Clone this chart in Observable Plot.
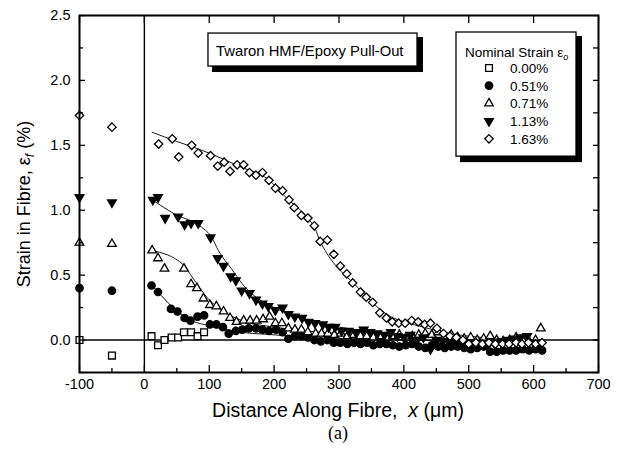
<!DOCTYPE html>
<html><head><meta charset="utf-8">
<script src="https://cdn.jsdelivr.net/npm/d3@7"></script>
<script src="https://cdn.jsdelivr.net/npm/@observablehq/plot@0.6"></script>
<style>body{margin:0;background:#fff;} #chart svg{display:block;}</style>
</head><body><div id="chart"></div>
<script>
// ---- series (x in µm, strain in %) ----
const strain000 = [[-100,0.00],[-50,-0.12],[11,0.03],[21,-0.04],[31,0.00],[42,0.02],[52,0.02],[61,0.06],[72,0.06],[82,0.03],[92,0.06]];
const strain051 = [[-100,0.40],[-50,0.38],[11,0.42],[21,0.37],[41,0.24],[51,0.22],[62,0.17],[71,0.15],[82,0.18],[92,0.19],[101,0.12],[111,0.12],[121,0.10],[130,0.05],[141,0.07],[151,0.08],[161,0.09],[172,0.09],[182,0.08],[192,0.07],[203,0.08],[213,0.06],[222,0.01],[232,0.03],[242,0.03],[252,0.02],[262,0.00],[272,-0.01],[282,0.00],[292,-0.02],[302,-0.02],[313,-0.03],[323,-0.02],[333,-0.03],[343,-0.02],[353,-0.04],[363,-0.03],[373,-0.03],[383,-0.04],[393,-0.05],[403,-0.04],[413,-0.03],[423,-0.05],[433,-0.06],[443,-0.04],[453,-0.05],[463,-0.06],[473,-0.05],[483,-0.05],[493,-0.06],[503,-0.07],[513,-0.06],[523,-0.05],[533,-0.09],[543,-0.09],[553,-0.08],[563,-0.08],[573,-0.08],[583,-0.07],[593,-0.08],[603,-0.07],[613,-0.08]];
const strain071 = [[-100,0.75],[-50,0.74],[12,0.69],[21,0.63],[31,0.55],[61,0.55],[72,0.43],[81,0.40],[91,0.32],[101,0.27],[111,0.26],[122,0.22],[132,0.17],[142,0.14],[153,0.15],[163,0.15],[173,0.15],[183,0.16],[193,0.18],[202,0.13],[212,0.13],[222,0.09],[232,0.08],[242,0.08],[252,0.06],[264,0.05],[273,0.05],[283,0.05],[293,0.04],[303,0.05],[313,0.03],[323,0.04],[333,0.03],[343,0.03],[353,0.02],[363,0.03],[373,0.02],[383,0.03],[393,0.04],[403,0.02],[413,0.03],[423,0.04],[433,0.05],[443,0.04],[453,0.06],[463,0.03],[473,0.04],[483,0.02],[493,0.01],[503,0.02],[513,0.00],[523,0.01],[533,0.03],[543,0.00],[553,-0.01],[563,0.00],[573,0.02],[583,0.00],[593,-0.01],[603,0.00],[611,0.09]];
const strain113 = [[-100,1.10],[-50,1.06],[13,1.08],[21,1.10],[32,0.94],[52,0.95],[62,0.89],[72,0.90],[83,0.90],[102,0.79],[113,0.63],[122,0.57],[133,0.49],[141,0.46],[150,0.38],[162,0.36],[172,0.31],[182,0.28],[191,0.26],[202,0.23],[213,0.25],[222,0.20],[232,0.18],[243,0.17],[253,0.14],[263,0.13],[275,0.12],[284,0.10],[294,0.10],[304,0.07],[315,0.07],[326,0.06],[338,0.08],[348,0.06],[359,0.05],[370,0.04],[380,0.06],[390,0.03],[400,0.02],[410,0.04],[420,0.00],[430,0.02],[441,-0.07],[450,0.00],[460,-0.01],[470,-0.02],[480,-0.03],[490,-0.04],[500,-0.02],[510,-0.03],[520,-0.02],[530,-0.04],[540,-0.03],[550,-0.01],[560,0.00],[570,0.01],[580,0.02],[590,0.03],[600,-0.02],[610,-0.04]];
const strain163 = [[-100,1.73],[-50,1.64],[22,1.51],[43,1.55],[53,1.41],[73,1.50],[83,1.44],[102,1.42],[113,1.34],[123,1.37],[132,1.30],[143,1.35],[153,1.35],[162,1.29],[172,1.27],[182,1.29],[192,1.23],[202,1.17],[213,1.15],[223,1.08],[231,1.02],[242,0.96],[252,0.94],[262,0.88],[271,0.76],[282,0.77],[292,0.66],[302,0.57],[312,0.51],[321,0.44],[333,0.37],[342,0.33],[352,0.29],[363,0.21],[373,0.17],[382,0.14],[392,0.13],[402,0.13],[412,0.15],[422,0.14],[432,0.12],[441,0.13],[451,0.09],[461,0.05],[471,0.03],[481,0.02],[491,0.00],[500,-0.03],[511,-0.02],[521,-0.03],[531,-0.02],[541,-0.03],[552,-0.03],[562,-0.03],[573,-0.02],[582,-0.03],[592,-0.02],[603,-0.03],[613,-0.02]];

// ---- fitted curves ----
const fit051 = [[11,0.42],[21,0.37],[42,0.26],[73,0.15],[100,0.11],[150,0.06],[200,0.04],[250,0.02],[300,0.01],[400,0.00],[610,-0.02]];
const fit071 = [[12,0.69],[60,0.58],[73,0.49],[98,0.32],[119,0.23],[150,0.15],[200,0.10],[250,0.07],[300,0.05],[400,0.03],[500,0.01],[610,0.00]];
const fit113 = [[12,1.08],[47,0.97],[88,0.87],[104,0.79],[114,0.69],[134,0.55],[153,0.42],[175,0.32],[200,0.25],[250,0.16],[300,0.10],[350,0.06],[400,0.04],[450,0.02],[500,0.00],[610,-0.02]];
const fit163 = [[12,1.60],[50,1.53],[100,1.44],[150,1.33],[190,1.24],[220,1.09],[250,0.95],[263,0.86],[271,0.76],[281,0.67],[307,0.51],[320,0.45],[340,0.35],[360,0.25],[380,0.18],[400,0.14],[430,0.10],[460,0.06],[500,0.03],[550,0.01],[610,0.00]];

// ---- ticks / labels ----
const xMajor = [-100,0,100,200,300,400,500,600,700];
const xMinor = [-50,50,150,250,350,450,550,650];
const yMajor = [0,0.5,1.0,1.5,2.0,2.5];
const yMinor = [-0.25,0.25,0.75,1.25,1.75,2.25];
const legendLabels = ["0.00%","0.51%","0.71%","1.13%","1.63%"];
const titleText = "Twaron HMF/Epoxy Pull-Out";

// ---- annotation boxes (data units of the two axes) ----
const boxes = [
  {x1: 98.8, x2: 421.0, y1: 2.107, y2: 2.361},   // title box
  {x1: 481.1, x2: 666.1, y1: 1.413, y2: 2.369}    // legend box
];

// ---- symbols (size = r*r*PI as passed by Plot) ----
const rad = s => Math.sqrt(s / Math.PI);
const symSquare = {draw(c, s){const r = rad(s); c.moveTo(-r,-r); c.lineTo(r,-r); c.lineTo(r,r); c.lineTo(-r,r); c.closePath();}};
const symCircle = {draw(c, s){const r = rad(s); c.moveTo(r,0); c.arc(0,0,r,0,2*Math.PI);}};
const symTriUp = {draw(c, s){const r = rad(s); const h = r*Math.sqrt(3); c.moveTo(0,-2*h/3); c.lineTo(r,h/3); c.lineTo(-r,h/3); c.closePath();}};
const symTriDown = {draw(c, s){const r = rad(s); const h = r*Math.sqrt(3); c.moveTo(0,2*h/3); c.lineTo(r,-h/3); c.lineTo(-r,-h/3); c.closePath();}};
const symDiamond = {draw(c, s){const r = rad(s); c.moveTo(0,-r); c.lineTo(r,0); c.lineTo(0,r); c.lineTo(-r,0); c.closePath();}};

const series = [
  {data: strain000, sym: symSquare, r: 3.4, fill: "white"},
  {data: strain051, sym: symCircle, r: 3.7, fill: "black"},
  {data: strain071, sym: symTriUp, r: 4.3, fill: "white"},
  {data: strain113, sym: symTriDown, r: 4.4, fill: "black"},
  {data: strain163, sym: symDiamond, r: 4.2, fill: "white"}
];
const fits = [fit051, fit071, fit113, fit163];

const plot = Plot.plot({
  width: 619, height: 458,
  marginLeft: 79, marginRight: 21, marginTop: 15, marginBottom: 86,
  x: {domain: [-100, 700]},
  y: {domain: [-0.25, 2.5]},
  style: {fontFamily: '"Liberation Sans", Arial, Helvetica, sans-serif', fontSize: "14.5px", color: "black", background: "white"},
  marks: [
    Plot.ruleY([0], {strokeWidth: 1.4}),
    Plot.ruleX([0], {strokeWidth: 1.4}),
    ...fits.map(f => Plot.line(f, {x: d => d[0], y: d => d[1], curve: "monotone-x", strokeWidth: 0.9})),
    ...series.map(s => Plot.dot(s.data, {x: d => d[0], y: d => d[1], symbol: s.sym, r: s.r, fill: s.fill, stroke: "black", strokeWidth: 1.3})),
    // boxes with drop shadow
    Plot.rect(boxes, {x1: "x1", x2: "x2", y1: "y1", y2: "y2", fill: "#000", fillOpacity: 1, stroke: "#000", strokeWidth: 2, dx: 5, dy: 5}),
    Plot.rect(boxes, {x1: "x1", x2: "x2", y1: "y1", y2: "y2", fill: "#fff", stroke: "#000", strokeWidth: 1.3}),
    // tick labels
    Plot.axisX({ticks: xMajor, anchor: "bottom", tickSize: 0, tickPadding: 6, tickFormat: d => String(d), label: null}),
    Plot.axisY({ticks: yMajor, anchor: "left", tickSize: 0, tickPadding: 9, tickFormat: d => d.toFixed(1), label: null}),
    // inward ticks
    Plot.axisX({ticks: xMajor, anchor: "bottom", tickSize: 7, dy: -7, fill: "none", label: null, strokeWidth: 1.3}),
    Plot.axisX({ticks: xMinor, anchor: "bottom", tickSize: 4, dy: -4, fill: "none", label: null, strokeWidth: 1.3}),
    Plot.axisX({ticks: xMajor, anchor: "top", tickSize: 7, dy: 7, fill: "none", label: null, strokeWidth: 1.3}),
    Plot.axisY({ticks: yMajor, anchor: "left", tickSize: 6, dx: 6, fill: "none", label: null, strokeWidth: 1.3}),
    Plot.axisY({ticks: yMinor, anchor: "left", tickSize: 4, dx: 4, fill: "none", label: null, strokeWidth: 1.3}),
    Plot.axisY({ticks: yMajor.concat(yMinor), anchor: "right", tickSize: 6, dx: -6, fill: "none", label: null, strokeWidth: 1.3}),
    Plot.frame({strokeWidth: 2})
  ]
});
document.getElementById("chart").append(plot);

// ---- text annotations ----
const svg = d3.select(plot);
const sans = '"Liberation Sans", Arial, Helvetica, sans-serif';
const g = svg.append("g").attr("font-family", sans).attr("text-anchor", "start").style("fill", "#000");

// heavy shadow edges (right and bottom of each box)
[[208, 33, 417, 66], [456, 32, 576, 156]].forEach(([x0, y0, x1, y1]) => {
  g.append("path")
    .attr("d", `M${x1 + 3},${y0 + 6}V${y1 + 3}H${x0 + 6}`)
    .style("fill", "none").style("stroke", "#000").style("stroke-width", "6px");
});

g.append("text").attr("x", 216).attr("y", 55.5).attr("font-size", 14.8).text(titleText);

const lt = g.append("text").attr("x", 465).attr("y", 57).attr("font-size", 13.5);
lt.append("tspan").text("Nominal Strain ε");
lt.append("tspan").attr("font-size", 9).attr("font-style", "italic").attr("dy", 3).text("o");
legendLabels.forEach((lab, i) => {
  const cy = 68 + i * 17.7;
  const s = series[i];
  g.append("path").attr("transform", `translate(489,${cy})`)
    .attr("d", d3.symbol(s.sym, s.r * s.r * Math.PI)())
    .style("fill", s.fill).style("stroke", "#000").style("stroke-width", "1.3px");
  g.append("text").attr("x", 510).attr("y", cy + 5).attr("font-size", 13.5).text(lab);
});

// y axis title
const yt = g.append("text").attr("transform", "translate(30,204) rotate(-90)").attr("text-anchor", "middle").attr("font-size", 18);
yt.append("tspan").text("Strain in Fibre, ε");
yt.append("tspan").attr("font-size", 12).attr("font-style", "italic").attr("dy", 4).text("f");
yt.append("tspan").attr("dy", -4).text(" (%)");

// x axis title
const xt = g.append("text").attr("x", 338).attr("y", 417).attr("text-anchor", "middle").attr("font-size", 19.5).style("white-space", "pre");
xt.append("tspan").text("Distance Along Fibre,  ");
xt.append("tspan").attr("font-style", "italic").text("x");
xt.append("tspan").text(" (μm)");

// caption
g.append("text").attr("x", 338).attr("y", 439).attr("text-anchor", "middle").attr("font-size", 18).attr("font-family", '"Liberation Serif", "Times New Roman", serif').text("(a)");
</script>
</body></html>
